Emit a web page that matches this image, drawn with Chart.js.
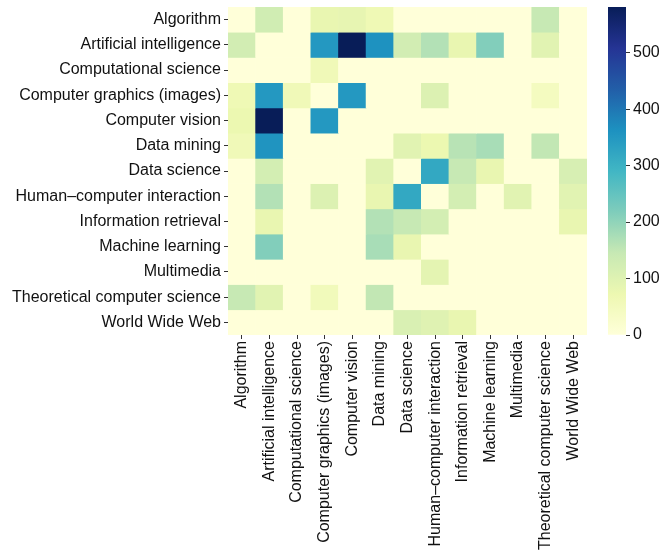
<!DOCTYPE html>
<html>
<head>
<meta charset="utf-8">
<script src="https://cdn.jsdelivr.net/npm/chart.js@4.4.1/dist/chart.umd.min.js"></script>
<style>
  body { margin: 0; background: #fff; }
  #wrap { position: relative; width: 660px; height: 554px; }
  canvas { position: absolute; top: 0; }
</style>
</head>
<body>
<div id="wrap">
  <canvas id="heat" width="600" height="554" style="left:0"></canvas>
  <canvas id="bar" width="60" height="554" style="left:600px"></canvas>
</div>
<script>
// fields, same order on both axes
const fields = [
  'Algorithm', 'Artificial intelligence', 'Computational science',
  'Computer graphics (images)', 'Computer vision', 'Data mining',
  'Data science', 'Human\u2013computer interaction', 'Information retrieval',
  'Machine learning', 'Multimedia', 'Theoretical computer science', 'World Wide Web'
];

// one array per row (y label)
const algorithm    = [0, 128, 0, 80, 85, 65, 0, 0, 0, 0, 0, 145, 0];
const artIntel     = [125, 0, 0, 350, 581, 362, 125, 165, 80, 215, 0, 95, 0];
const compScience  = [0, 0, 0, 60, 0, 0, 0, 0, 0, 0, 0, 0, 0];
const compGraphics = [65, 350, 60, 0, 350, 0, 0, 105, 0, 0, 0, 45, 0];
const compVision   = [75, 581, 0, 350, 0, 0, 0, 0, 0, 0, 0, 0, 0];
const dataMining   = [60, 358, 0, 0, 0, 0, 95, 75, 160, 177, 0, 150, 0];
const dataScience  = [0, 122, 0, 0, 0, 95, 0, 318, 145, 80, 0, 0, 115];
const hci          = [0, 165, 0, 105, 0, 80, 318, 0, 122, 0, 95, 0, 95];
const infoRetr     = [0, 80, 0, 0, 0, 165, 145, 122, 0, 0, 0, 0, 80];
const machLearn    = [0, 215, 0, 0, 0, 177, 80, 0, 0, 0, 0, 0, 0];
const multimedia   = [0, 0, 0, 0, 0, 0, 0, 90, 0, 0, 0, 0, 0];
const theoCS       = [145, 95, 0, 55, 0, 150, 0, 0, 0, 0, 0, 0, 0];
const www          = [0, 0, 0, 0, 0, 0, 110, 100, 80, 0, 0, 0, 0];

const rows = [algorithm, artIntel, compScience, compGraphics, compVision, dataMining,
  dataScience, hci, infoRetr, machLearn, multimedia, theoCS, www];

const vmax = 581;
const cbTicks = [0, 100, 200, 300, 400, 500];

// YlGnBu
const stops = ['#ffffd9', '#edf8b1', '#c7e9b4', '#7fcdbb', '#41b6c4', '#1d91c0', '#225ea8', '#253494', '#081d58'];

function hex(c) {
  return [parseInt(c.slice(1, 3), 16), parseInt(c.slice(3, 5), 16), parseInt(c.slice(5, 7), 16)];
}
function cmap(v) {
  let t = Math.max(0, Math.min(1, v / vmax)) * (stops.length - 1);
  let i = Math.min(Math.floor(t), stops.length - 2);
  let f = t - i;
  let a = hex(stops[i]), b = hex(stops[i + 1]);
  let c = a.map((x, k) => Math.round(x + (b[k] - x) * f));
  return 'rgb(' + c.join(',') + ')';
}

const font = { family: 'Arial, "Liberation Sans", sans-serif', size: 16 };
const tickGrid = { display: true, offset: false, drawOnChartArea: false, drawTicks: true, tickLength: 4, tickWidth: 1, color: '#333' };

const datasets = rows.map((vals, r) => ({
  label: fields[r],
  data: vals.map((v, c) => ({ x: fields[c], y: [r, r + 1] })),
  backgroundColor: vals.map(cmap),
  borderWidth: 0,
  borderSkipped: false,
  barPercentage: 1,
  categoryPercentage: 1,
  grouped: false
}));

new Chart(document.getElementById('heat'), {
  type: 'bar',
  data: { labels: fields, datasets: datasets },
  options: {
    responsive: false,
    animation: false,
    layout: { padding: { top: 7, right: 13, left: 0, bottom: 0 } },
    plugins: { legend: { display: false }, tooltip: { enabled: false } },
    scales: {
      x: {
        type: 'category',
        grid: tickGrid,
        border: { display: false },
        ticks: { color: '#111', font: font, minRotation: 90, maxRotation: 90, padding: 2 },
        afterFit: (s) => { s.height = 219; s.paddingLeft = 0; s.paddingRight = 0; }
      },
      y: {
        type: 'linear',
        min: 0,
        max: 13,
        reverse: true,
        grid: tickGrid,
        border: { display: false },
        afterBuildTicks: (s) => { s.ticks = fields.map((f, i) => ({ value: i + 0.5 })); },
        ticks: { color: '#111', font: font, padding: 3, autoSkip: false,
          callback: (v, i) => fields[i] },
        afterFit: (s) => { s.width = 228; s.paddingTop = 0; s.paddingBottom = 0; }
      }
    }
  }
});

// colour bar
new Chart(document.getElementById('bar'), {
  type: 'bar',
  data: {
    labels: ['cb'],
    datasets: [{
      data: [[0, vmax]],
      barPercentage: 1,
      categoryPercentage: 1,
      borderWidth: 0,
      backgroundColor: (ctx) => {
        const area = ctx.chart.chartArea;
        if (!area) return stops[0];
        const g = ctx.chart.ctx.createLinearGradient(0, area.bottom, 0, area.top);
        for (let i = 0; i <= 40; i++) g.addColorStop(i / 40, cmap(vmax * i / 40));
        return g;
      }
    }]
  },
  options: {
    responsive: false,
    animation: false,
    layout: { padding: { top: 7, left: 8, right: 0, bottom: 219 } },
    plugins: { legend: { display: false }, tooltip: { enabled: false } },
    scales: {
      x: { display: false },
      y: {
        position: 'right',
        min: 0,
        max: vmax,
        grid: tickGrid,
        border: { display: false },
        afterBuildTicks: (s) => { s.ticks = cbTicks.map(v => ({ value: v })); },
        ticks: { color: '#111', font: font, padding: 3 },
        afterFit: (s) => { s.width = 34; s.paddingTop = 0; s.paddingBottom = 0; }
      }
    }
  }
});
</script>
</body>
</html>
